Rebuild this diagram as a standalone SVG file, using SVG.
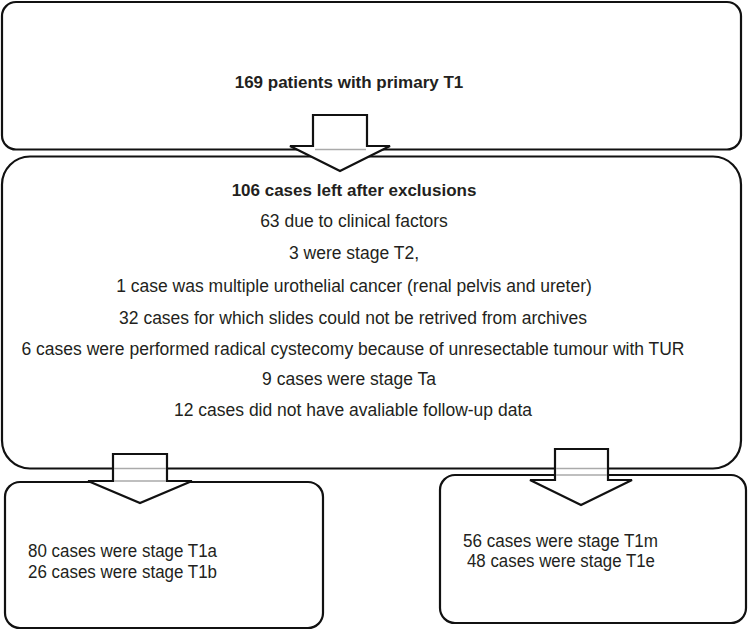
<svg xmlns="http://www.w3.org/2000/svg" width="750" height="632" viewBox="0 0 750 632">
<style>
.box{fill:#fff;stroke:#111;stroke-width:2.2}
.arr{fill:#fff;stroke:#111;stroke-width:2.2;stroke-linejoin:miter}
.ghost{stroke:#aaa;stroke-width:1.5}
text{font-family:"Liberation Sans",Arial,sans-serif;fill:#231f20}
.b{font-weight:bold;font-size:17px}
.m{font-size:17.5px;text-anchor:middle}
.s{font-size:17.5px}
</style>
<rect width="750" height="632" fill="#fff"/>
<g id="n1">
<rect class="box" x="2" y="2" width="739" height="147.5" rx="14"/>
<text class="b" x="349" y="88" text-anchor="middle">169 patients with primary T1</text>
</g>
<g id="n2">
<rect class="box" x="2" y="156.5" width="739" height="312" rx="28"/>
<text class="b" x="354" y="196" text-anchor="middle">106 cases left after exclusions</text>
<text class="m" x="354" y="227">63 due to clinical factors</text>
<text class="m" x="354" y="259">3 were stage T2,</text>
<text class="m" x="354" y="292">1 case was multiple urothelial cancer (renal pelvis and ureter)</text>
<text class="m" x="353" y="324">32 cases for which slides could not be retrived from archives</text>
<text class="m" x="353" y="355">6 cases were performed radical cystecomy because of unresectable tumour with TUR</text>
<text class="m" x="349" y="385">9 cases were stage Ta</text>
<text class="m" x="353" y="416">12 cases did not have avaliable follow-up data</text>
</g>
<g id="n3">
<rect class="box" x="5" y="482" width="318" height="146" rx="15"/>
<text class="s" x="28" y="557" textLength="189" lengthAdjust="spacingAndGlyphs">80 cases were stage T1a</text>
<text class="s" x="28" y="578" textLength="189" lengthAdjust="spacingAndGlyphs">26 cases were stage T1b</text>
</g>
<g id="n4">
<rect class="box" x="440" y="475" width="306" height="148" rx="15"/>
<text class="s" x="463" y="547" textLength="195" lengthAdjust="spacingAndGlyphs">56 cases were stage T1m</text>
<text class="s" x="467" y="567" textLength="188" lengthAdjust="spacingAndGlyphs">48 cases were stage T1e</text>
</g>
<g id="connectors">
<polygon class="arr" points="313,115 367,115 367,146 390,146 340,171 290,146 313,146"/>
<line class="ghost" x1="315" y1="149.5" x2="366" y2="149.5"/>
<polygon class="arr" points="113,454 167,454 167,481 192,481 140,503 88,481 113,481"/>
<line class="ghost" x1="114" y1="468.5" x2="166" y2="468.5"/>
<line class="ghost" x1="114" y1="481" x2="166" y2="481"/>
<polygon class="arr" points="555,449 608,449 608,480 632,480 581,505 530,480 555,480"/>
<line class="ghost" x1="556" y1="468.5" x2="607" y2="468.5"/>
<line class="ghost" x1="556" y1="475" x2="607" y2="475"/>
</g>
</svg>
